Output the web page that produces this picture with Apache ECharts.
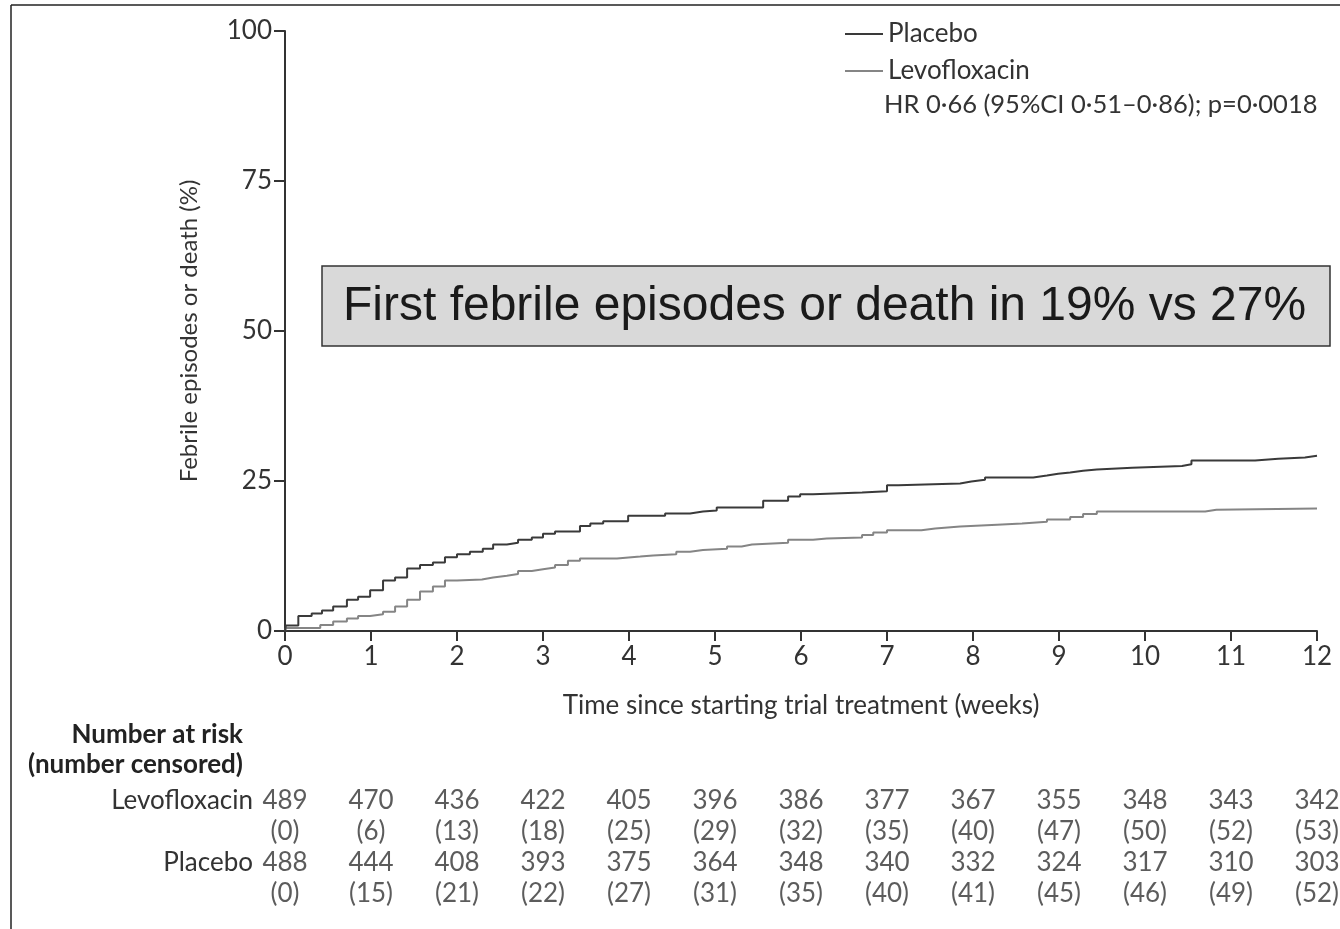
<!DOCTYPE html>
<html>
<head>
<meta charset="utf-8">
<script src="https://cdn.jsdelivr.net/npm/echarts@6/dist/echarts.min.js"></script>
<style>
  html, body { margin: 0; padding: 0; background: #fff; }
  #chart { width: 1340px; height: 929px; }
</style>
</head>
<body>
<div id="chart"></div>
<script>
// Cumulative incidence steps: time (weeks) at which the curve jumps, and the new value (%)
const placeboTimes = [0, 0.01, 0.155, 0.31, 0.43, 0.56, 0.72, 0.85, 0.99, 1.14, 1.28, 1.42, 1.57, 1.72, 1.86, 2.0, 2.15, 2.30, 2.42, 2.58, 2.71, 2.87, 3.0, 3.14, 3.43, 3.55, 3.70, 3.99, 4.42, 4.71, 4.86, 5.02, 5.56, 5.85, 5.99, 6.14, 6.71, 7.0, 7.13, 7.85, 7.98, 8.14, 8.70, 8.86, 8.99, 9.13, 9.28, 9.44, 9.85, 10.43, 10.54, 11.28, 11.55, 11.86, 12];
const placeboValues = [0, 0.9, 2.5, 2.9, 3.4, 4.1, 5.2, 5.7, 6.8, 8.4, 8.9, 10.4, 11.0, 11.4, 12.3, 12.8, 13.2, 13.7, 14.4, 14.7, 15.2, 15.6, 16.2, 16.6, 17.5, 17.9, 18.3, 19.2, 19.6, 19.9, 20.1, 20.6, 21.7, 22.4, 22.8, 23.1, 23.3, 24.3, 24.6, 24.9, 25.2, 25.6, 25.9, 26.2, 26.4, 26.7, 26.9, 27.2, 27.5, 27.8, 28.4, 28.7, 28.9, 29.2, 29.2];

const levoTimes = [0, 0.01, 0.41, 0.56, 0.72, 0.85, 0.99, 1.14, 1.28, 1.42, 1.57, 1.72, 1.86, 2.0, 2.29, 2.42, 2.58, 2.71, 2.87, 3.0, 3.14, 3.29, 3.43, 3.86, 4.13, 4.28, 4.55, 4.71, 4.86, 5.14, 5.31, 5.43, 5.85, 6.14, 6.30, 6.71, 6.84, 7.0, 7.40, 7.56, 7.85, 8.28, 8.57, 8.86, 9.13, 9.28, 9.44, 10.70, 10.83, 12];
const levoValues = [0, 0.5, 1.0, 1.6, 2.1, 2.5, 2.8, 3.2, 4.1, 5.2, 6.6, 7.4, 8.4, 8.6, 8.9, 9.2, 9.5, 10.0, 10.3, 10.6, 11.0, 11.7, 12.1, 12.4, 12.6, 12.8, 13.2, 13.5, 13.7, 14.1, 14.4, 14.7, 15.2, 15.4, 15.6, 16.0, 16.4, 16.8, 17.1, 17.4, 17.7, 17.9, 18.2, 18.6, 19.0, 19.5, 19.9, 20.2, 20.4, 20.4];

// Number at risk table
const riskWeeks = [0, 1, 2, 3, 4, 5, 6, 7, 8, 9, 10, 11, 12];
const levoAtRisk = [489, 470, 436, 422, 405, 396, 386, 377, 367, 355, 348, 343, 342];
const levoCensored = [0, 6, 13, 18, 25, 29, 32, 35, 40, 47, 50, 52, 53];
const placeboAtRisk = [488, 444, 408, 393, 375, 364, 348, 340, 332, 324, 317, 310, 303];
const placeboCensored = [0, 15, 21, 22, 27, 31, 35, 40, 41, 45, 46, 49, 52];
const riskRows = ['Levofloxacin', '', 'Placebo', ''];

const yTicks = [0, 25, 50, 75, 100];

const FONT = 'Lato';
const FS = 26;
const TXT = '#333333';
const DARK = '#3a3a3a';
const GREY = '#858585';

const zip = (a, b) => a.map((t, i) => [t, b[i]]);

function riskSeries(values, row, wrap) {
  return {
    type: 'scatter',
    xAxisIndex: 1,
    yAxisIndex: 1,
    symbolSize: 0,
    silent: true,
    data: riskWeeks.map((w, i) => [w, row, values[i]]),
    label: {
      show: true,
      position: 'inside',
      fontFamily: FONT,
      fontSize: FS,
      color: TXT,
      formatter: p => wrap ? '(' + p.data[2] + ')' : String(p.data[2])
    }
  };
}

const chart = echarts.init(document.getElementById('chart'), null, { renderer: 'canvas' });

chart.setOption({
  backgroundColor: '#ffffff',
  animation: false,
  textStyle: { fontFamily: FONT, color: TXT },
  grid: [
    { left: 285, right: 23, top: 31, bottom: 298 },
    { left: 285, right: 23, top: 785, height: 124 }
  ],
  xAxis: [
    {
      type: 'value', gridIndex: 0, min: 0, max: 12, interval: 1,
      name: 'Time since starting trial treatment (weeks)',
      nameLocation: 'middle', nameGap: 62,
      nameTextStyle: { fontFamily: FONT, fontSize: FS, color: TXT },
      axisLine: { show: true, onZero: false, lineStyle: { color: '#333', width: 2 } },
      axisTick: { show: true, length: 10, lineStyle: { color: '#333', width: 2 } },
      axisLabel: { fontFamily: FONT, fontSize: FS, color: TXT, margin: 13 },
      splitLine: { show: false }
    },
    {
      type: 'value', gridIndex: 1, min: 0, max: 12, interval: 1,
      show: false
    }
  ],
  yAxis: [
    {
      type: 'value', gridIndex: 0, min: 0, max: 100, interval: 25,
      name: 'Febrile episodes or death (%)',
      nameLocation: 'middle', nameGap: 84, nameRotate: 90,
      nameTextStyle: { fontFamily: FONT, fontSize: 24, color: TXT },
      axisLine: { show: true, onZero: false, lineStyle: { color: '#333', width: 2 } },
      axisTick: { show: true, length: 11, lineStyle: { color: '#333', width: 2 } },
      axisLabel: { fontFamily: FONT, fontSize: FS, color: TXT, margin: 13,
        formatter: v => yTicks.includes(v) ? String(v) : '' },
      splitLine: { show: false }
    },
    {
      type: 'category', gridIndex: 1, data: riskRows, inverse: true,
      axisLine: { show: false }, axisTick: { show: false }, splitLine: { show: false },
      axisLabel: { fontFamily: FONT, fontSize: FS, color: TXT, margin: 32 }
    }
  ],
  legend: {
    orient: 'vertical',
    left: 840, top: 16,
    itemGap: 11,
    itemWidth: 38, itemHeight: 2,
    icon: 'rect',
    textStyle: { fontFamily: FONT, fontSize: FS, color: TXT },
    data: ['Placebo', 'Levofloxacin']
  },
  series: [
    {
      name: 'Placebo', type: 'line', step: 'end', showSymbol: false,
      data: zip(placeboTimes, placeboValues),
      itemStyle: { color: DARK },
      lineStyle: { color: DARK, width: 2 },
      z: 3
    },
    {
      name: 'Levofloxacin', type: 'line', step: 'end', showSymbol: false,
      data: zip(levoTimes, levoValues),
      itemStyle: { color: GREY },
      lineStyle: { color: GREY, width: 2 },
      z: 2
    },
    riskSeries(levoAtRisk, 0, false),
    riskSeries(levoCensored, 1, true),
    riskSeries(placeboAtRisk, 2, false),
    riskSeries(placeboCensored, 3, true)
  ],
  graphic: [
    // outer frame (top and left edges)
    { type: 'line', shape: { x1: 11, y1: 5, x2: 1340, y2: 5 }, style: { stroke: '#222', lineWidth: 1.5 } },
    { type: 'line', shape: { x1: 11, y1: 5, x2: 11, y2: 929 }, style: { stroke: '#222', lineWidth: 1.5 } },
    // hazard ratio note under the legend
    { type: 'text', x: 884, y: 105,
      style: { text: 'HR 0·66 (95%CI 0·51–0·86); p=0·0018', font: '25.5px ' + FONT, fill: TXT, verticalAlign: 'middle' } },
    // highlighted annotation box
    { type: 'rect', shape: { x: 322, y: 266, width: 1008, height: 80 },
      style: { fill: '#d9d9d9', stroke: '#333', lineWidth: 1.5 }, z: 10 },
    { type: 'text', x: 343, y: 307, z: 11,
      style: { text: 'First febrile episodes or death in 19% vs 27%', font: '48px "Liberation Sans"',
        fill: '#1a1a1a', verticalAlign: 'middle', align: 'left' } },
    // risk table heading
    { type: 'text', x: 243, y: 735,
      style: { text: 'Number at risk', font: 'bold ' + FS + 'px ' + FONT, fill: '#222', align: 'right', verticalAlign: 'middle' } },
    { type: 'text', x: 243, y: 765,
      style: { text: '(number censored)', font: 'bold ' + FS + 'px ' + FONT, fill: '#222', align: 'right', verticalAlign: 'middle' } }
  ]
});
</script>
</body>
</html>
